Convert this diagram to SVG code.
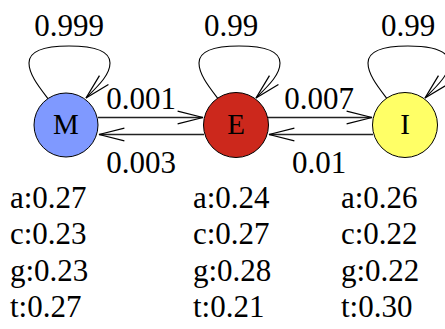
<svg xmlns="http://www.w3.org/2000/svg" width="445" height="329" viewBox="0 0 445 329">
<style>
text{font-family:"Liberation Serif","Times New Roman",serif;fill:#000}
.lbl{font-size:31px;text-anchor:middle}
.nl{font-size:29px;text-anchor:middle}
.em{font-size:31px}
.node circle{stroke:#000;stroke-width:1}
.loop{fill:none;stroke:#000;stroke-width:1.1}
.edge{fill:none;stroke:#222;stroke-width:1.3}
</style>
<defs>
<marker id="ah" markerUnits="userSpaceOnUse" markerWidth="30" markerHeight="20" viewBox="-24 -8 26 16" refX="0" refY="0" orient="auto" overflow="visible">
<path d="M-22,-5.5 L0,0 L-22,5.5" fill="none" stroke="#000" stroke-width="1.1"/>
</marker>
</defs>
<g id="connectors">
<path class="loop" d="M49,100 C40,88 29,75 29,63 C29,50 45,46 69,46 C93,46 110,50 110,63 C110,75 98,86 86,98" marker-end="url(#ah)"/>
<path class="loop" d="M219,100 C210,88 199,75 199,63 C199,50 215,46 239,46 C263,46 280,50 280,63 C280,75 268,86 256,98" marker-end="url(#ah)"/>
<path class="loop" d="M388,100 C379,88 368,75 368,63 C368,50 384,46 408,46 C432,46 449,50 449,63 C449,75 437,86 425,98" marker-end="url(#ah)"/>
<path class="edge" d="M98,117.5 L203,117.5" marker-end="url(#ah)"/>
<path class="edge" d="M204,134.5 L99,134.5" marker-end="url(#ah)"/>
<path class="edge" d="M268,117.5 L372,117.5" marker-end="url(#ah)"/>
<path class="edge" d="M373,134.5 L269,134.5" marker-end="url(#ah)"/>
<text class="lbl" x="69" y="36">0.999</text>
<text class="lbl" x="231" y="36">0.99</text>
<text class="lbl" x="408" y="36">0.99</text>
<text class="lbl" x="141" y="109">0.001</text>
<text class="lbl" x="141" y="173">0.003</text>
<text class="lbl" x="319" y="109">0.007</text>
<text class="lbl" x="319" y="173">0.01</text>
</g>
<g id="M" class="node">
<circle cx="66" cy="125" r="32" fill="#7F99FF"/>
<text class="nl" x="66" y="134">M</text>
</g>
<g id="E" class="node">
<circle cx="236" cy="125" r="32.5" fill="#CC281C"/>
<text class="nl" x="236" y="134">E</text>
</g>
<g id="I" class="node">
<circle cx="405" cy="125" r="32.5" fill="#FFFF66"/>
<text class="nl" x="405" y="134">I</text>
</g>
<g id="emissions" class="em">
<text class="em" x="10" y="208">a:0.27</text>
<text class="em" x="10" y="244">c:0.23</text>
<text class="em" x="10" y="281">g:0.23</text>
<text class="em" x="10" y="317">t:0.27</text>
<text class="em" x="193" y="208">a:0.24</text>
<text class="em" x="193" y="244">c:0.27</text>
<text class="em" x="193" y="281">g:0.28</text>
<text class="em" x="193" y="317">t:0.21</text>
<text class="em" x="341" y="208">a:0.26</text>
<text class="em" x="341" y="244">c:0.22</text>
<text class="em" x="341" y="281">g:0.22</text>
<text class="em" x="341" y="317">t:0.30</text>
</g>
</svg>
